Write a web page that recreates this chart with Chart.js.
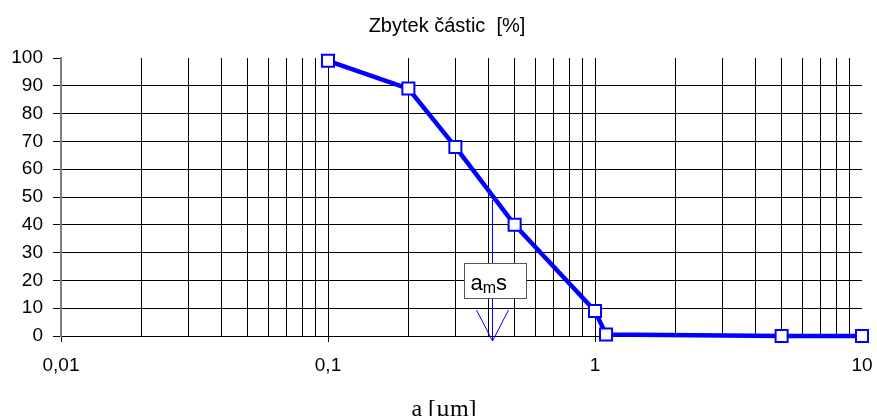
<!DOCTYPE html>
<html>
<head>
<meta charset="utf-8">
<script src="https://cdn.jsdelivr.net/npm/chart.js@4"></script>
<style>
  html, body { margin: 0; padding: 0; background: #fff; }
  #wrap { width: 877px; height: 416px; }
</style>
</head>
<body>
<div id="wrap"><canvas id="residueChart"></canvas></div>
<script>
// particle size [um] and residue [%]
const sizes = [0.1, 0.2, 0.3, 0.5, 1, 1.1, 5, 10];
const residue = [99, 89, 68, 40, 9, 0.5, 0, 0];

const xDecades = [0.01, 0.1, 1, 10];
const xDecadeLabels = ['0,01', '0,1', '1', '10'];
const yTicks = [0, 10, 20, 30, 40, 50, 60, 70, 80, 90, 100];

// median size marker (a_m s)
const amSize = 0.41;
const amLineTop = 49;
const amBoxValue = 20;

const isDecade = v => Math.abs(Math.log10(v) - Math.round(Math.log10(v))) < 1e-9;

// the original titles sit a bit right of the canvas centre
const titleNudge = {
  id: 'titleNudge',
  afterLayout(chart) {
    chart.boxes.forEach(b => {
      if (!b.options || typeof b.options.text !== 'string') return;
      if (b.options.position === 'top') b.left = 32;
      if (b.options.position === 'bottom') b.left = 26;
    });
  }
};

const amMarker = {
  id: 'amMarker',
  afterDatasetsDraw(chart) {
    const { ctx, scales: { x, y } } = chart;
    const px = Math.round(x.getPixelForValue(amSize)) + 0.5;
    const top = y.getPixelForValue(amLineTop);
    const boxY = y.getPixelForValue(amBoxValue);
    const tip = y.getPixelForValue(0) + 5;
    const boxW = 62, boxH = 35;
    ctx.save();
    ctx.strokeStyle = '#0000ff';
    ctx.lineWidth = 1;
    ctx.beginPath();
    ctx.moveTo(px, top);
    ctx.lineTo(px, tip);
    ctx.moveTo(px - 16, tip - 31);
    ctx.lineTo(px, tip);
    ctx.lineTo(px + 16, tip - 31);
    ctx.stroke();
    // label box
    const bx = Math.round(px - boxW / 2 + 2) + 0.5;
    const by = Math.round(boxY - boxH / 2) + 0.5;
    ctx.fillStyle = '#fff';
    ctx.fillRect(bx, by, boxW, boxH);
    ctx.strokeStyle = '#555';
    ctx.strokeRect(bx, by, boxW, boxH);
    ctx.fillStyle = '#000';
    ctx.textBaseline = 'alphabetic';
    ctx.font = '22px "Liberation Sans", Arial, sans-serif';
    let tx = bx + 6;
    const base = by + 26;
    ctx.fillText('a', tx, base);
    tx += ctx.measureText('a').width;
    ctx.font = '16px "Liberation Sans", Arial, sans-serif';
    ctx.fillText('m', tx, base + 3);
    tx += ctx.measureText('m').width;
    ctx.font = '22px "Liberation Sans", Arial, sans-serif';
    ctx.fillText('s', tx, base);
    ctx.restore();
  }
};

const ctx = document.getElementById('residueChart');

new Chart(ctx, {
  type: 'line',
  data: {
    datasets: [{
      data: sizes.map((s, i) => ({ x: s, y: residue[i] })),
      borderColor: '#0000ff',
      borderWidth: 4.5,
      tension: 0,
      pointStyle: 'rect',
      pointRadius: 8.5,
      pointHoverRadius: 8.5,
      pointBorderWidth: 2,
      pointBorderColor: '#0000ff',
      pointBackgroundColor: '#fff',
      clip: false
    }]
  },
  options: {
    responsive: true,
    maintainAspectRatio: false,
    animation: false,
    events: [],
    layout: { padding: { left: 0, right: 15, top: 0, bottom: 0 } },
    plugins: {
      legend: { display: false },
      tooltip: { enabled: false },
      title: {
        display: true,
        text: 'Zbytek částic  [%]',
        color: '#000',
        font: { family: '"Liberation Sans", Arial, sans-serif', size: 20, weight: 'normal', lineHeight: 1.2 },
        padding: { top: 14, bottom: 20 }
      },
      subtitle: {
        display: true,
        position: 'bottom',
        text: 'a [µm]',
        color: '#000',
        font: { family: '"Liberation Serif", "Times New Roman", serif', size: 24, weight: 'normal', lineHeight: 1 },
        padding: { top: 0, bottom: -6 }
      }
    },
    scales: {
      x: {
        type: 'logarithmic',
        min: 0.01,
        max: 10,
        afterBuildTicks(scale) {
          const ticks = [];
          for (let d = 0; d < xDecades.length; d++) {
            const base = xDecades[d];
            const limit = d === xDecades.length - 1 ? 1 : 9;
            for (let m = 1; m <= limit; m++) ticks.push({ value: +(base * m).toPrecision(6) });
          }
          scale.ticks = ticks;
        },
        afterFit(scale) {
          scale.height = 62;
          scale.paddingLeft = 0;
          scale.paddingRight = 0;
        },
        ticks: {
          autoSkip: false,
          maxRotation: 0,
          padding: 12,
          color: '#000',
          font: { family: '"Liberation Sans", Arial, sans-serif', size: 19 },
          callback(value) {
            const i = xDecades.findIndex(d => Math.abs(d - value) < 1e-9);
            return i >= 0 ? xDecadeLabels[i] : '';
          }
        },
        grid: {
          color: c => (c.tick && isDecade(c.tick.value) && (c.tick.value <= 0.01 || c.tick.value >= 10)) ? 'rgba(0,0,0,0)' : '#000',
          tickColor: c => (c.tick && isDecade(c.tick.value)) ? '#000' : 'rgba(0,0,0,0)',
          tickLength: 6,
          lineWidth: 1
        },
        border: { display: true, color: '#000', width: 1 }
      },
      y: {
        min: 0,
        max: 100,
        afterBuildTicks(scale) { scale.ticks = yTicks.map(v => ({ value: v })); },
        afterFit(scale) { scale.width = 61; },
        ticks: {
          padding: 10,
          color: '#000',
          font: { family: '"Liberation Sans", Arial, sans-serif', size: 19 }
        },
        grid: {
          color: c => (c.tick && c.tick.value >= 100) ? 'rgba(0,0,0,0)' : '#000',
          tickColor: '#000',
          tickLength: 8,
          lineWidth: 1
        },
        border: { display: true, color: '#808080', width: 2 }
      }
    }
  },
  plugins: [titleNudge, amMarker]
});
</script>
</body>
</html>
